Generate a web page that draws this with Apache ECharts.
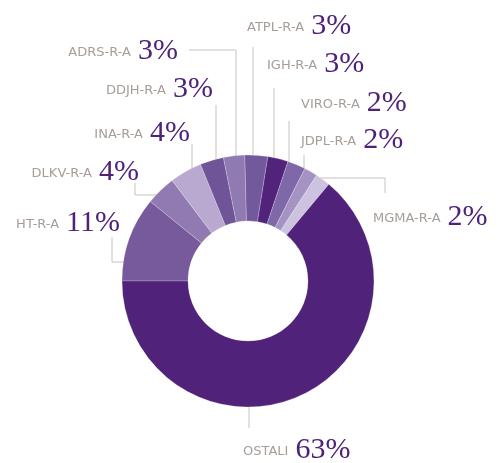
<!DOCTYPE html>
<html>
<head>
<meta charset="utf-8">
<script src="https://cdn.jsdelivr.net/npm/echarts@6/dist/echarts.min.js"></script>
<style>html,body{margin:0;padding:0;background:#fff}#c{width:500px;height:463px}</style>
</head>
<body>
<div id="c"></div>
<script>
// Data (shares), clockwise from 9 o'clock
const categories = ['HT-R-A','DLKV-R-A','INA-R-A','DDJH-R-A','ADRS-R-A','ATPL-R-A','IGH-R-A','VIRO-R-A','JDPL-R-A','MGMA-R-A','OSTALI'];
const values     = [10.8, 3.8, 4.1, 3.0, 2.7, 2.9, 2.6, 2.3, 1.7, 1.9, 63.4];
const percentLabels = ['11%','4%','4%','3%','3%','3%','3%','2%','2%','2%','63%'];

// Styles
const palette = ['#765a9b','#917ab1','#b9a9d0','#6f5597','#8f7ab2','#72599c','#51237b','#7f68a7','#a593c3','#cdc3e0','#50227a'];

// Label placement (annotation layout, not data)
const guides = [
  {x:120, y:223, align:'right', line:[[142,262],[112,262],[112,237]]},
  {x:139, y:172, align:'right', line:[[165,195],[135,195],[135,183]]},
  {x:190, y:133, align:'right', line:[[192,190],[192,167],[192,144]]},
  {x:213, y:89,  align:'right', line:[[216,187],[216,146],[216,105]]},
  {x:178, y:51,  align:'right', line:[[236,183],[236,50],[189,50]]},
  {x:247, y:26,  align:'left',  line:[[253,182],[253,115],[253,47]]},
  {x:267, y:64,  align:'left',  line:[[274,183],[274,135],[274,88]]},
  {x:301, y:103, align:'left',  line:[[289,183],[289,152],[289,121]]},
  {x:301, y:140, align:'left',  line:[[304,173],[304,164],[304,155]]},
  {x:373, y:217, align:'left',  line:[[320,178],[385,178],[385,193]]},
  {x:243, y:450, align:'left',  line:[[249,392],[249,410],[249,428]]}
];

const chart = echarts.init(document.getElementById('c'), null, {renderer:'canvas'});
chart.setOption({
  animation: false,
  series: [{
    type: 'pie',
    center: [248, 281],
    radius: [60, 126],
    startAngle: 180,
    clockwise: true,
    avoidLabelOverlap: false,
    emphasis: {disabled: true},
    itemStyle: {borderColor: 'rgba(255,255,255,0.45)', borderWidth: 0.5},
    data: categories.map((n, i) => ({name: n, value: values[i], itemStyle: {color: palette[i]}})),
    label: {
      show: true,
      position: 'outside',
      formatter: (p) => '{n|' + p.name + '}{g| }{p|' + percentLabels[p.dataIndex] + '}',
      rich: {
        n: {fontFamily: 'DejaVu Sans', fontSize: 13, color: '#a69d97', padding: [3,0,0,0]},
        g: {width: 7, fontSize: 12},
        p: {fontFamily: 'Liberation Serif', fontSize: 30, color: '#4f2279'}
      }
    },
    labelLine: {show: true, length: 10, length2: 10, lineStyle: {color: '#c9c1bb', width: 1}},
    labelLayout: (params) => {
      const g = guides[params.dataIndex];
      return {x: g.x, y: g.y, align: g.align, verticalAlign: 'middle', labelLinePoints: g.line};
    }
  }]
});
</script>
</body>
</html>
